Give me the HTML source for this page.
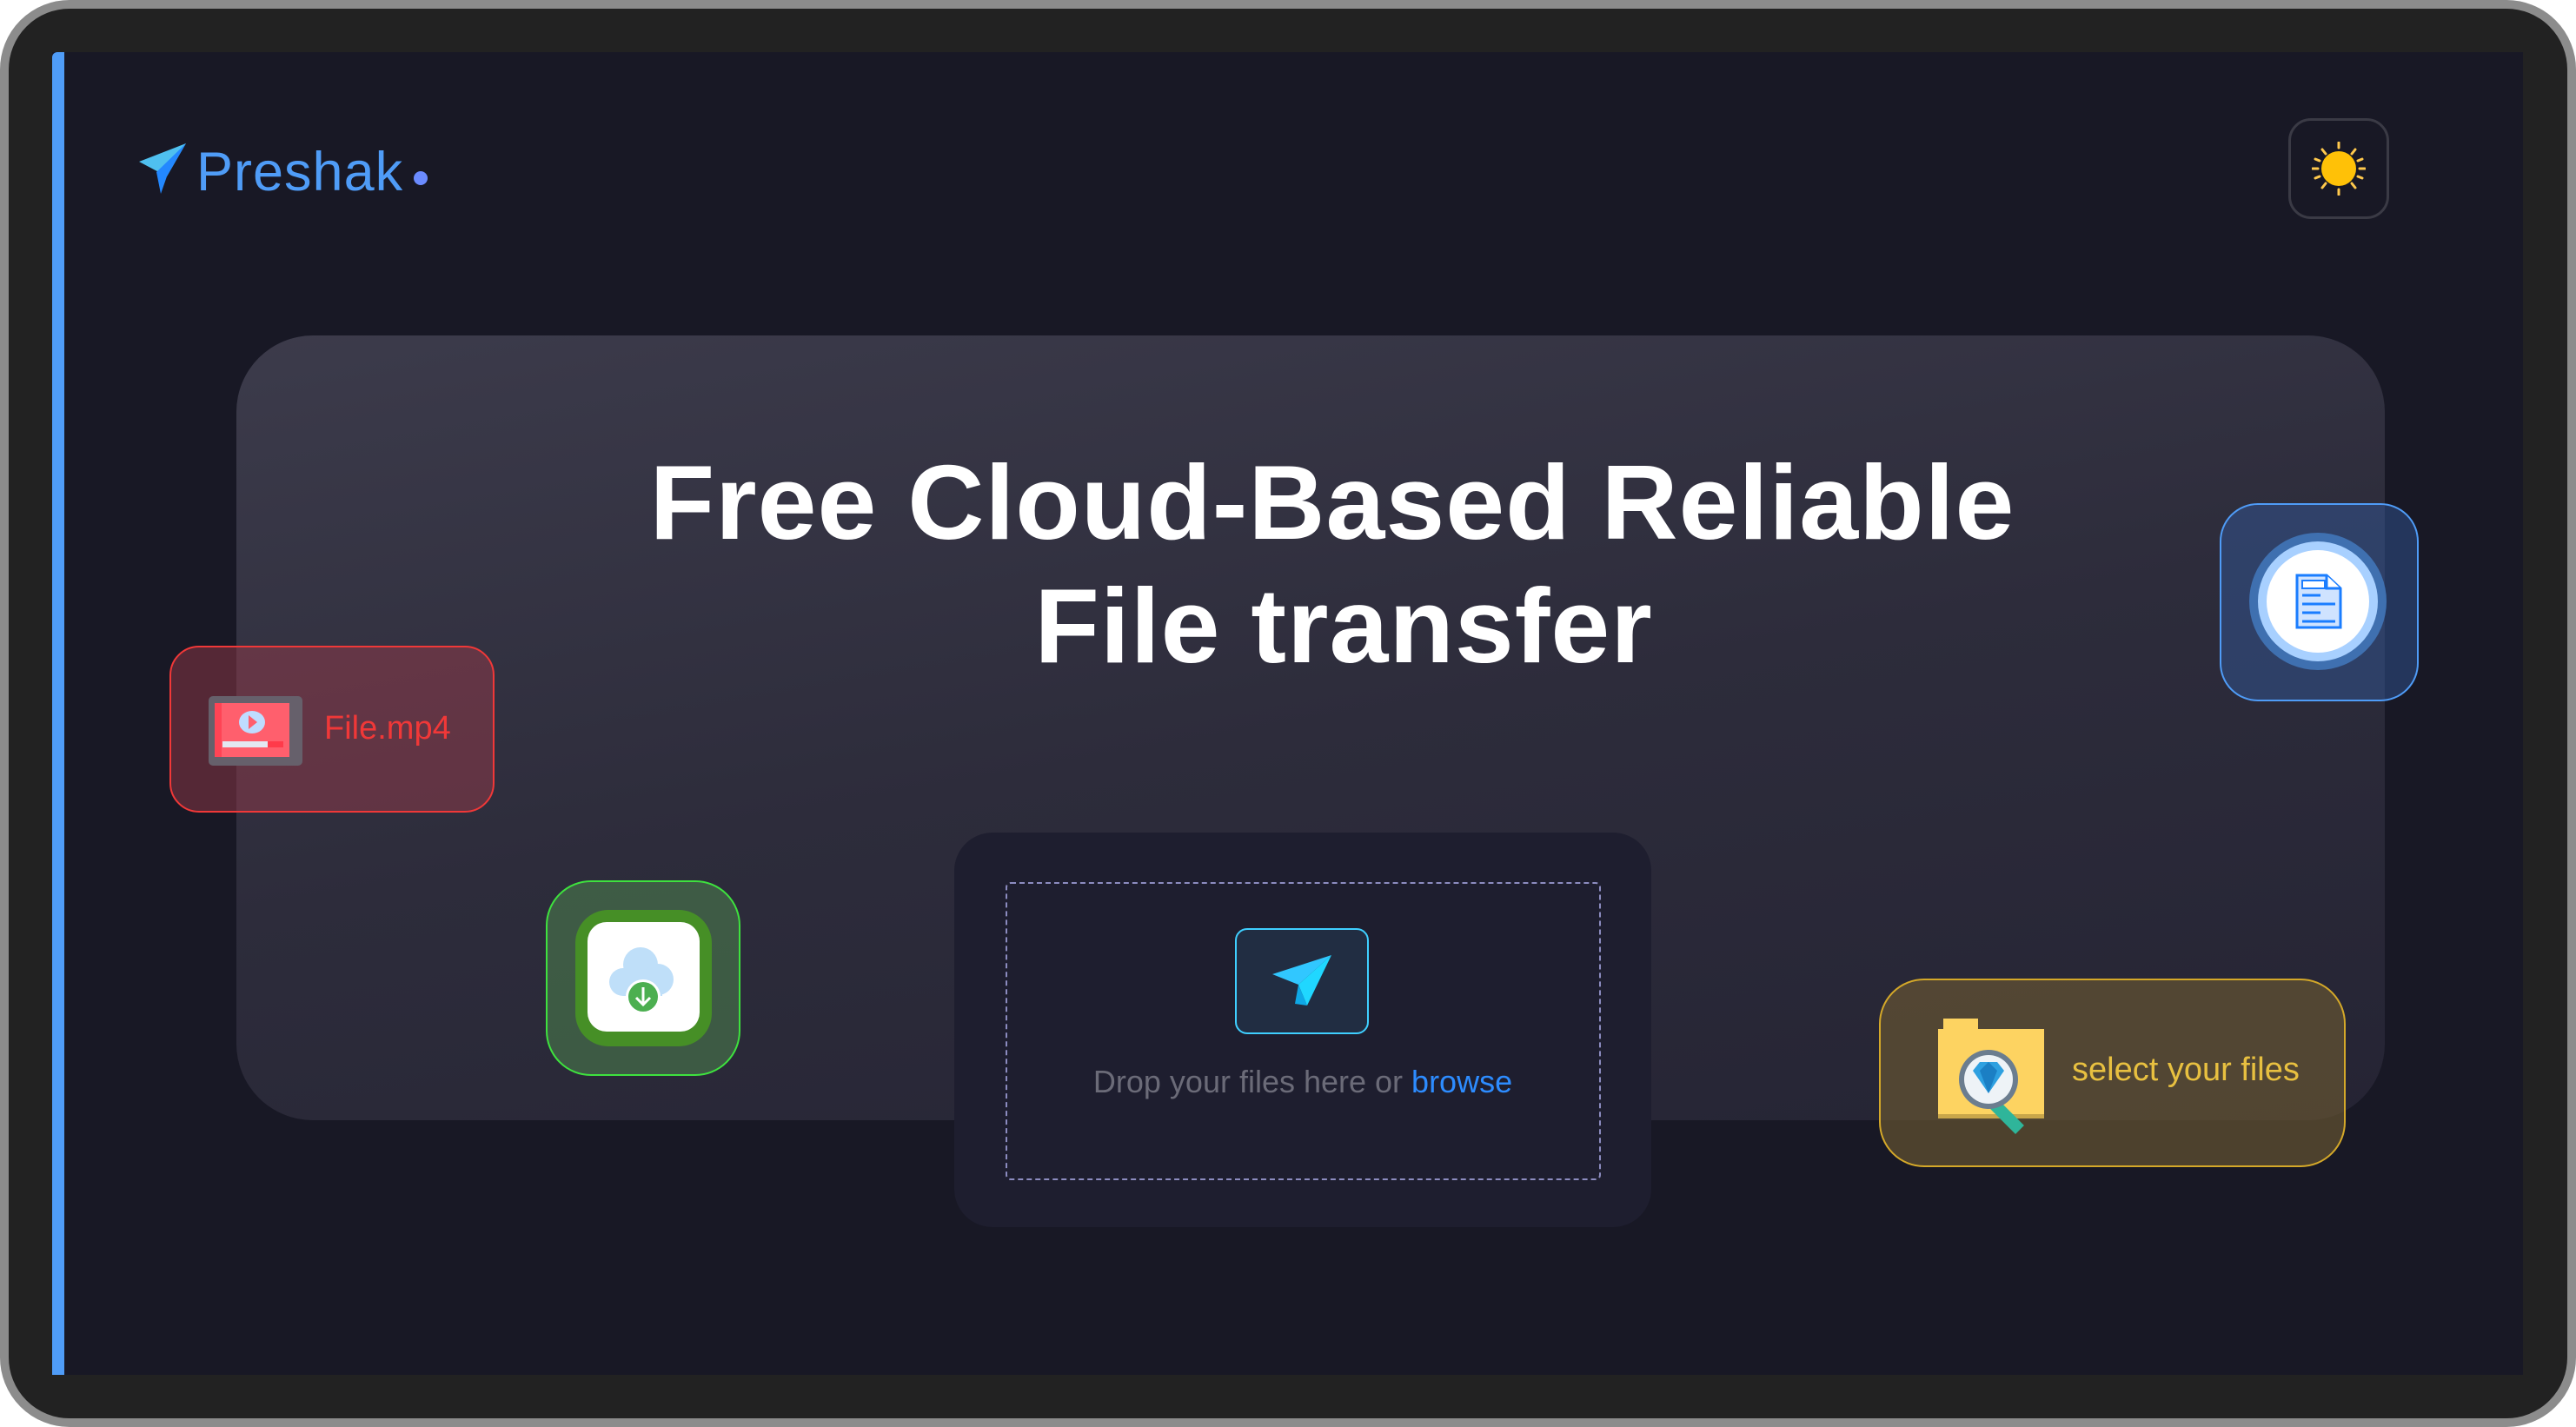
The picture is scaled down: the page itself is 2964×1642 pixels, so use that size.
<!DOCTYPE html>
<html><head><meta charset="utf-8"><style>
*{margin:0;padding:0;box-sizing:border-box}
body{width:2964px;height:1642px;background:#fff;position:relative;overflow:hidden;font-family:"Liberation Sans",sans-serif}
.abs{position:absolute}
#outer{left:0;top:0;width:2964px;height:1642px;background:#222222;border:10px solid #8c8c8c;border-radius:80px}
#screen{left:60px;top:60px;width:2843px;height:1522px;background:#181825}
#bar{left:60px;top:60px;width:14px;height:1522px;background:#4f9cf7;border-radius:6px 0 0 0}
#hero{left:272px;top:386px;width:2472px;height:903px;border-radius:88px;background:linear-gradient(170deg,#3c3b4b 0%,#2d2c3b 50%,#252434 100%)}
.title{left:297px;width:2472px;text-align:center;color:#fff;font-weight:bold;font-size:122px;letter-spacing:1px}
</style></head><body>
<div id="outer" class="abs"></div>
<div id="screen" class="abs"></div>
<div id="bar" class="abs"></div>

<svg class="abs" style="left:158px;top:163px" width="60" height="60" viewBox="0 0 60 60">
<polygon points="2,23 56,2 34,40" fill="#4fc0ef"/>
<polygon points="56,2 34,40 27,60 22,35" fill="#2388ff"/>
</svg>
<div class="abs" style="left:226px;top:162px;font-size:63px;color:#4f9cf7;font-weight:500;letter-spacing:1px">Preshak</div>
<div class="abs" style="left:476px;top:197px;width:16px;height:16px;border-radius:50%;background:#6b8bff"></div>

<div class="abs" style="left:2633px;top:136px;width:116px;height:116px;border:3px solid #3a3a45;border-radius:26px"></div>
<svg class="abs" style="left:2660px;top:163px" width="62" height="62" viewBox="0 0 62 62">
<circle cx="31" cy="31" r="20" fill="#ffc107"/>
<g stroke="#ffc94d" stroke-width="3" stroke-linecap="round">
<line x1="31" y1="1" x2="31" y2="7"/><line x1="31" y1="55" x2="31" y2="61"/>
<line x1="1" y1="31" x2="7" y2="31"/><line x1="55" y1="31" x2="61" y2="31"/>
<line x1="12" y1="9" x2="16" y2="14"/><line x1="50" y1="9" x2="46" y2="14"/>
<line x1="12" y1="53" x2="16" y2="48"/><line x1="50" y1="53" x2="46" y2="48"/>
<line x1="4" y1="20" x2="9" y2="22"/><line x1="58" y1="20" x2="53" y2="22"/>
<line x1="4" y1="42" x2="9" y2="40"/><line x1="58" y1="42" x2="53" y2="40"/>
</g></svg>

<div id="hero" class="abs"></div>
<div class="abs title" style="top:508px">Free Cloud-Based Reliable</div>
<div class="abs title" style="top:650px;left:310px">File transfer</div>

<div class="abs" style="left:195px;top:743px;width:374px;height:192px;border:2px solid #f03838;border-radius:34px;background:rgba(160,60,75,0.45)"></div>
<svg class="abs" style="left:240px;top:801px" width="108" height="80" viewBox="0 0 108 80">
<rect x="0" y="0" width="108" height="80" rx="5" fill="#66606b"/>
<rect x="7" y="8" width="86" height="62" fill="#ff5f6d"/>
<rect x="7" y="8" width="8" height="62" fill="#ff4455"/>
<ellipse cx="50" cy="30" rx="15" ry="13" fill="#bfdcff"/>
<polygon points="46,22 56,30 46,38" fill="#ff5f6d"/>
<rect x="16" y="52" width="52" height="7" fill="#e3e8f2"/>
<rect x="68" y="52" width="18" height="7" fill="#ff3a4a"/>
</svg>
<div class="abs" style="left:373px;top:817px;font-size:38px;color:#f03838">File.mp4</div>

<div class="abs" style="left:628px;top:1013px;width:224px;height:225px;border:2px solid #3ee23e;border-radius:52px;background:rgba(80,140,80,0.5)"></div>
<div class="abs" style="left:662px;top:1047px;width:157px;height:157px;border-radius:38px;background:#468f26"></div>
<div class="abs" style="left:676px;top:1061px;width:129px;height:126px;border-radius:22px;background:#fff"></div>
<svg class="abs" style="left:695px;top:1085px" width="90" height="90" viewBox="0 0 90 90">
<circle cx="42" cy="25" r="20" fill="#bfdff9"/><circle cx="22" cy="45" r="16" fill="#bfdff9"/><circle cx="62" cy="42" r="18" fill="#bfdff9"/>
<rect x="22" y="35" width="45" height="26" fill="#bfdff9"/>
<circle cx="45" cy="62" r="20" fill="#fff"/><circle cx="45" cy="62" r="17" fill="#4caf50"/>
<path d="M45 51 V71 M37 63 L45 71 L53 63" stroke="#fff" stroke-width="3" fill="none"/>
</svg>

<div class="abs" style="left:2554px;top:579px;width:229px;height:228px;border:2px solid #4f9cf7;border-radius:44px;background:rgba(50,90,160,0.45)"></div>
<div class="abs" style="left:2588px;top:613px;width:158px;height:158px;border-radius:50%;background:#3f70b0"></div>
<div class="abs" style="left:2598px;top:623px;width:138px;height:138px;border-radius:50%;background:#a8d0ff"></div>
<div class="abs" style="left:2608px;top:633px;width:118px;height:118px;border-radius:50%;background:#fff"></div>
<svg class="abs" style="left:2640px;top:659px" width="56" height="66" viewBox="0 0 56 66">
<path d="M3 3 H37 L53 18 V63 H3 Z" fill="#cfe3ff" stroke="#1a7dff" stroke-width="3"/>
<path d="M37 3 V18 H53" fill="#fff" stroke="#1a7dff" stroke-width="3"/>
<rect x="9" y="9" width="26" height="9" fill="#fff" stroke="#1a7dff" stroke-width="2"/>
<g stroke="#1a7dff" stroke-width="3"><line x1="9" y1="26" x2="30" y2="26"/><line x1="9" y1="36" x2="47" y2="36"/><line x1="9" y1="46" x2="30" y2="46"/><line x1="9" y1="56" x2="47" y2="56"/></g>
</svg>

<div class="abs" style="left:1098px;top:958px;width:802px;height:454px;border-radius:44px;background:#1e1e2f"></div>
<div class="abs" style="left:1157px;top:1015px;width:685px;height:343px;border:2px dashed #8c8cc0;border-radius:6px"></div>
<div class="abs" style="left:1421px;top:1068px;width:154px;height:122px;border:2px solid #3fcfff;border-radius:14px;background:#212d42"></div>
<svg class="abs" style="left:1462px;top:1097px" width="72" height="62" viewBox="0 0 72 62">
<polygon points="2,24 70,2 32,36" fill="#31c7ff"/>
<polygon points="70,2 32,36 42,60" fill="#20d7ff"/>
<polygon points="32,36 28,58 42,60" fill="#0fa8e6"/>
</svg>
<div class="abs" style="left:1098px;width:802px;top:1224px;text-align:center;font-size:36px;color:#6b6b78">Drop your files here or <span style="color:#2d8cff">browse</span></div>

<div class="abs" style="left:2162px;top:1126px;width:537px;height:217px;border:2px solid #d4a829;border-radius:52px;background:rgba(110,90,50,0.62)"></div>
<svg class="abs" style="left:2228px;top:1170px" width="130" height="136" viewBox="0 0 130 136">
<rect x="8" y="2" width="40" height="20" fill="#fdd361"/>
<rect x="2" y="14" width="122" height="102" fill="#fdd361"/>
<rect x="2" y="112" width="122" height="5" fill="#c9a64a"/>
<line x1="62" y1="96" x2="96" y2="130" stroke="#2fb59a" stroke-width="14"/>
<circle cx="60" cy="72" r="34" fill="#6b7d8f"/>
<circle cx="60" cy="72" r="28" fill="#eef3f7"/>
<polygon points="42,62 50,52 70,52 78,62 60,88" fill="#2ea0e0"/>
<polygon points="50,62 60,52 70,62 60,88" fill="#1b7fc4"/>
</svg>
<div class="abs" style="left:2384px;top:1210px;font-size:38px;color:#e8c040">select your files</div>
</body></html>
